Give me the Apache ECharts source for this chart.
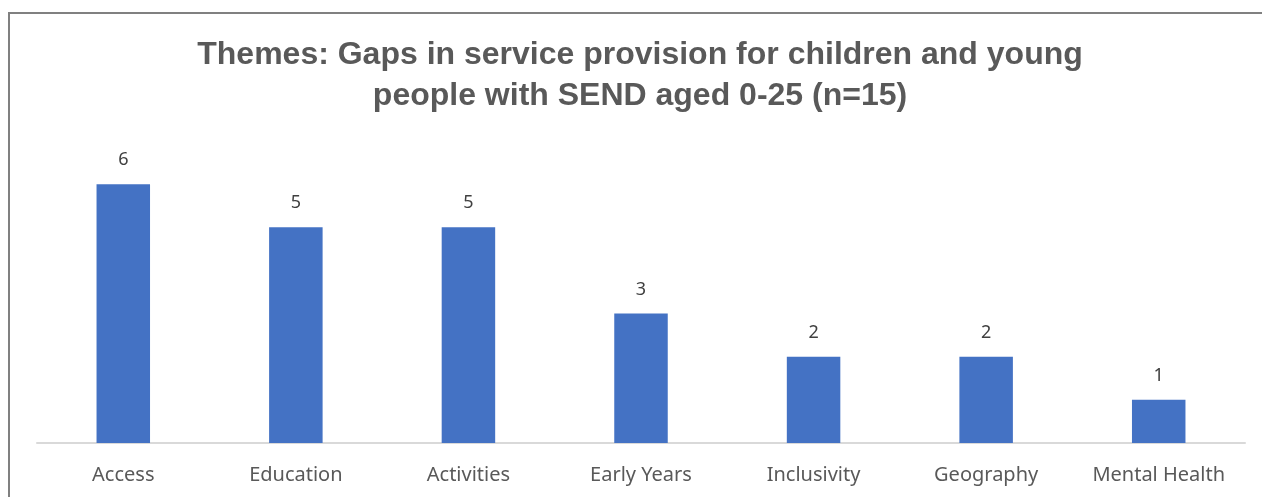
<!DOCTYPE html>
<html>
<head>
<meta charset="utf-8">
<script src="https://cdn.jsdelivr.net/npm/echarts@6/dist/echarts.min.js"></script>
<style>
  html, body { margin: 0; padding: 0; background: #fff; }
  #frame { position: absolute; left: 8px; top: 12px; width: 1260px; height: 500px; border: 2px solid #808080; border-right: none; border-bottom: none; box-sizing: border-box; }
  #chart { width: 1262px; height: 497px; }
</style>
</head>
<body>
<div id="chart"></div>
<div id="frame"></div>
<script>
// categories and counts
const themes = ['Access', 'Education', 'Activities', 'Early Years', 'Inclusivity', 'Geography', 'Mental Health'];
const counts = [6, 5, 5, 3, 2, 2, 1];

const chart = echarts.init(document.getElementById('chart'));
chart.setOption({
  backgroundColor: '#fff',
  animation: false,
  title: {
    text: 'Themes: Gaps in service provision for children and young\npeople with SEND aged 0-25 (n=15)',
    left: 635,
    textAlign: 'center',
    top: 30,
    textStyle: {
      fontFamily: 'Liberation Sans',
      fontWeight: 'bold',
      fontSize: 32,
      lineHeight: 41,
      color: '#595959'
    }
  },
  grid: { left: 37, right: 17, top: 141, bottom: 54 },
  xAxis: {
    type: 'category',
    data: themes,
    axisLine: { lineStyle: { color: '#d9d9d9', width: 2 } },
    axisTick: { show: false },
    axisLabel: { fontFamily: 'Noto Sans', fontSize: 20, color: '#595959', margin: 22 }
  },
  yAxis: {
    type: 'value',
    min: 0,
    max: 7,
    show: false,
    splitLine: { show: false }
  },
  series: [{
    type: 'bar',
    data: counts,
    barWidth: '31%',
    itemStyle: { color: '#4472c4' },
    label: {
      show: true,
      position: 'top',
      distance: 15,
      fontFamily: 'Noto Sans',
      fontSize: 18,
      color: '#404040'
    }
  }]
});
</script>
</body>
</html>
